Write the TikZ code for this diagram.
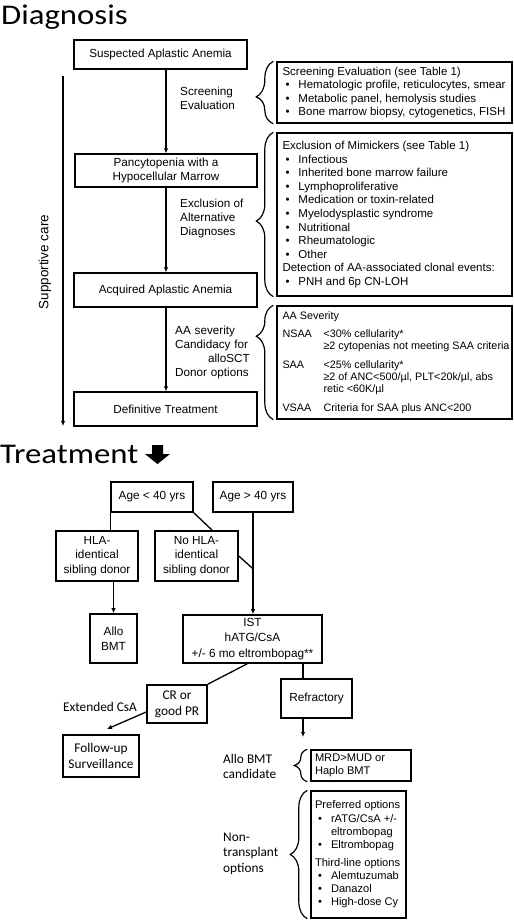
\documentclass[tikz,border=0pt]{standalone}
\usepackage{fontspec}
\setmainfont{Liberation Sans}
\newfontfamily\carlito{Carlito}
\usepackage{tikz}
\usetikzlibrary{arrows.meta,positioning,calc,decorations.pathreplacing}
\newcommand\itm[1]{\makebox[16pt][l]{\hspace{3pt}\textbullet}#1}
\newcommand\wide[1]{\scalebox{1.15}[1]{#1}}
\tikzset{
  box/.style={rectangle, draw=black, line width=1.4pt, inner sep=0pt, align=center, font=\fontsize{11.7}{13.5}\selectfont},
  listbox/.style={rectangle, draw=black, line width=1.4pt, inner sep=0pt},
  listtext/.style={align=left, inner sep=0pt, font=\fontsize{11.5}{13.3}\selectfont},
  tbox/.style={rectangle, draw=black, line width=1.6pt, inner sep=0pt, align=center, font=\fontsize{11.8}{14.5}\selectfont},
  cbox/.style={tbox, font=\carlito\fontsize{13.3}{16}\selectfont},
  steplabel/.style={anchor=west, align=left, inner sep=0pt, font=\fontsize{11.7}{14}\selectfont},
  note/.style={align=left, inner sep=0pt, font=\carlito\fontsize{13.3}{15.5}\selectfont},
  title/.style={anchor=base west, inner sep=0pt, font=\carlito\fontsize{28.5}{30}\selectfont},
  flow/.style={line width=1.3pt, -{Latex[length=5pt,width=4.5pt]}},
  link/.style={line width=1.3pt},
  sbrace/.style={line width=1.2pt, decorate, decoration={brace, amplitude=17pt, aspect=#1}},
  sbrace/.default=0.5
}
\begin{document}
\begin{tikzpicture}[x=1pt,y=-1pt]
  \useasboundingbox (0,0) rectangle (514,921);
  % diagnosis column
  \node[title] (diag) at (1,24) {\wide{Diagnosis}};
  \node[box, minimum width=173pt, minimum height=29pt] (susp) at (160.5,54.5) {Suspected Aplastic Anemia};
  \node[box, minimum width=182pt, minimum height=33pt] (pan) at (166,170.5) {Pancytopenia with a\\Hypocellular Marrow};
  \node[box, minimum width=183pt, minimum height=34pt] (acq) at (165.5,290) {Acquired Aplastic Anemia};
  \node[box, minimum width=183pt, minimum height=34pt] (defi) at (165.5,409) {Definitive Treatment};
  \draw[flow] (susp.south -| pan.north) -- (pan.north);
  \draw[flow] (pan.south) -- (pan.south |- acq.north);
  \draw[flow] (acq.south -| pan.south) -- (defi.north -| pan.south);
  \node[steplabel] (scrlab) at (180,98.5) {Screening\\Evaluation};
  \node[steplabel] (exclab) at (180,218) {Exclusion of\\Alternative\\Diagnoses};
  \node[steplabel, text width=74.5pt] (sevlab) at (175,352.5) {AA severity\\Candidacy for\\\hspace*{\fill}alloSCT\\Donor options};

  % supportive care
  \coordinate (sctop) at (63,76);
  \coordinate (scbot) at (63,426);
  \draw[flow, line width=1.2pt] (sctop) -- (scbot);
  \node[rotate=90, inner sep=0pt, font=\fontsize{13.5}{15}\selectfont] (sclab) at (45,262) {Supportive care};

  % side boxes
  \node[listbox, minimum width=235pt, minimum height=61pt] (scr) at (394.5,92.5) {};
  \node[listtext, right=6pt of scr.west] (scrtext) {Screening Evaluation (see Table 1)\\
    \itm{Hematologic profile, reticulocytes, smear}\\
    \itm{Metabolic panel, hemolysis studies}\\
    \itm{Bone marrow biopsy, cytogenetics, FISH}};
  \node[listbox, minimum width=235pt, minimum height=163pt] (exc) at (394.5,214.5) {};
  \node[listtext, right=6pt of exc.west, font=\fontsize{11.5}{13.6}\selectfont] (exctext) {Exclusion of Mimickers (see Table 1)\\
    \itm{Infectious}\\
    \itm{Inherited bone marrow failure}\\
    \itm{Lymphoproliferative}\\
    \itm{Medication or toxin-related}\\
    \itm{Myelodysplastic syndrome}\\
    \itm{Nutritional}\\
    \itm{Rheumatologic}\\
    \itm{Other}\\
    Detection of AA-associated clonal events:\\
    \itm{PNH and 6p CN-LOH}};
  \node[listbox, minimum width=235pt, minimum height=113pt] (sev) at (394.5,362.5) {};
  \node[listtext, right=6pt of sev.west, font=\fontsize{10.8}{12.3}\selectfont] (sevtext) {AA Severity\\[6pt]
    \makebox[41pt][l]{NSAA}<30\% cellularity*\\
    \hspace*{41pt}≥2 cytopenias not meeting SAA criteria\\[6pt]
    \makebox[41pt][l]{SAA}<25\% cellularity*\\
    \hspace*{41pt}≥2 of ANC<500/µl, PLT<20k/µl, abs\\
    \hspace*{41pt}retic <60K/µl\\[6pt]
    \makebox[41pt][l]{VSAA}Criteria for SAA plus ANC<200};
  \draw[sbrace=0.43] ($(scr.south west)+(-3,0)$) -- ($(scr.north west)+(-3,0)$);
  \draw[sbrace=0.46] ($(exc.south west)+(-3,0)$) -- ($(exc.north west)+(-3,0)$);
  \draw[sbrace=0.73] ($(sev.south west)+(-3,0)$) -- ($(sev.north west)+(-3,0)$);

  % treatment
  \node[title] (treat) at (0,463) {\wide{Treatment}};
  \fill (152,445) -- (163,445) -- (163,454) -- (170,454) -- (157.5,464) -- (145,454) -- (152,454) -- cycle;
  \node[tbox, minimum width=82pt, minimum height=30pt] (young) at (152,497) {Age < 40 yrs};
  \node[tbox, minimum width=80pt, minimum height=30pt] (old) at (253,497) {Age > 40 yrs};
  \node[tbox, minimum width=82pt, minimum height=50pt] (sib) at (97,556) {HLA-\\identical\\sibling donor};
  \node[tbox, minimum width=83pt, minimum height=50pt] (nosib) at (196.5,556) {No HLA-\\identical\\sibling donor};
  \node[tbox, minimum width=47pt, minimum height=49pt] (allo) at (113.5,638.5) {Allo\\BMT};
  \node[tbox, minimum width=139pt, minimum height=48pt, font=\fontsize{11.8}{15.5}\selectfont] (ist) at (252.5,639) {IST\\hATG/CsA\\+/- 6 mo eltrombopag**};
  \node[cbox, minimum width=60pt, minimum height=38pt] (resp) at (177,704) {CR or\\good PR};
  \node[cbox, minimum width=76pt, minimum height=42pt] (follow) at (101,756) {Follow-up\\Surveillance};
  \node[tbox, minimum width=71pt, minimum height=39pt] (refr) at (316.5,698.5) {Refractory};
  \node[note] (ext) at (100,707) {Extended CsA};
  \draw[link] (young.south west) -- (young.south west |- sib.north);
  \draw[link] (young.south east) -- (nosib.north -| old.west);
  \draw[flow] (old.south) -- (old.south |- ist.north);
  \coordinate (join) at ($(old.south)+(0,56)$);
  \draw[link] (nosib.east) -- (join);
  \draw[flow] (sib.south -| allo.north) -- (allo.north);
  \draw[link] ($(ist.south west)+(65,0)$) -- (resp.north east);
  \coordinate (fu) at (107,729);
  \draw[flow] ($(resp.west)+(0,8)$) -- (fu);
  \coordinate (rx) at (303,0);
  \coordinate (rd) at (303,737);
  \draw[link] (ist.south -| rx) -- (refr.north -| rx);
  \draw[flow] (refr.south -| rx) -- (rd);

  % refractory options
  \node[listbox, minimum width=100pt, minimum height=31pt] (mrd) at (361,765.5) {};
  \node[listtext, right=4.5pt of mrd.west, font=\fontsize{11.1}{13.3}\selectfont] (mrdtext) {MRD>MUD or\\Haplo BMT};
  \node[listbox, minimum width=95pt, minimum height=127pt] (nontx) at (358.5,854.5) {};
  \node[listtext, right=4.5pt of nontx.west, font=\fontsize{11.1}{13.3}\selectfont] (nontxtext) {Preferred options\\
    \itm{rATG/CsA +/-}\\
    \hspace*{16pt}eltrombopag\\
    \itm{Eltrombopag}\\[4pt]
    Third-line options\\
    \itm{Alemtuzumab}\\
    \itm{Danazol}\\
    \itm{High-dose Cy}};
  \node[note, anchor=west] (candlab) at (223,766.5) {Allo BMT\\candidate};
  \node[note, anchor=west] (nontxlab) at (223,853.5) {Non-\\transplant\\options};
  \draw[sbrace, decoration={amplitude=13pt}] ($(mrd.south west)+(-3,0)$) -- ($(mrd.north west)+(-3,0)$);
  \draw[sbrace] ($(nontx.south west)+(-3,0)$) -- ($(nontx.north west)+(-3,0)$);
\end{tikzpicture}
\end{document}
